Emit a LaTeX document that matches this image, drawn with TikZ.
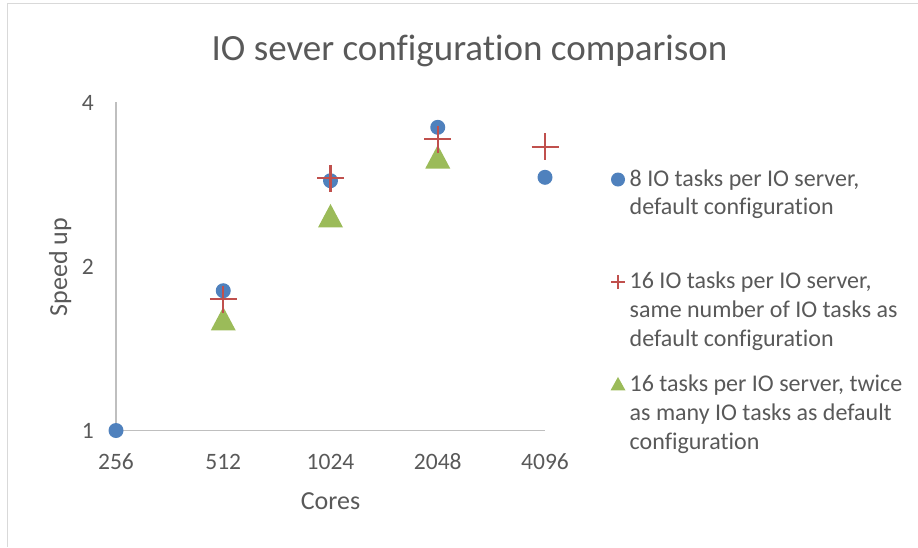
\documentclass[tikz,border=0pt]{standalone}
\usepackage{fontspec}
\setmainfont{Carlito}[Ligatures=NoCommon]
\definecolor{txt}{HTML}{595959}
\definecolor{axisgray}{HTML}{BFBFBF}
\definecolor{framegray}{HTML}{D9D9D9}
\definecolor{sblue}{HTML}{4F81BD}
\definecolor{sred}{HTML}{C0504D}
\definecolor{sgreen}{HTML}{9BBB59}
\tikzset{
  ticklab/.style={inner sep=0pt, text=txt, font=\fontsize{23.5}{28}\selectfont},
  axtitle/.style={inner sep=0pt, text=txt, font=\fontsize{26}{31}\selectfont},
  legtext/.style={inner sep=0pt, text=txt, font=\fontsize{24}{29}\selectfont, anchor=base west},
  bluedot/.style={circle, fill=sblue, draw=none, inner sep=0pt, minimum size=15pt},
  legdot/.style={circle, fill=sblue, draw=none, inner sep=0pt, minimum size=14pt},
  plusmark/.pic={\draw[sred, line width=2.2pt] (-13.5,0) -- (13.5,0) (0,-13.5) -- (0,13.5);},
  legplus/.pic={\draw[sred, line width=1.4pt] (-7,0) -- (7,0) (0,-7) -- (0,7);},
  trimark/.pic={\fill[sgreen] (-12.5,11.75) -- (12.5,11.75) -- (0,-11.75) -- cycle;},
  legtri/.pic={\fill[sgreen] (-7.5,6.75) -- (7.5,6.75) -- (0,-6.75) -- cycle;},
}
\begin{document}
\begin{tikzpicture}[x=1pt,y=-1pt]
\useasboundingbox (0,0) rectangle (918,547);
% frame
\coordinate (fr1) at (918,3.5);
\coordinate (fr2) at (7.5,3.5);
\coordinate (fr3) at (7.5,547);
\draw[framegray, line width=1.5pt] (fr1) -- (fr2) -- (fr3);
% title
\node[inner sep=0pt, text=txt, font=\fontsize{37}{44}\selectfont, anchor=base] (title) at (469.5,60) {IO sever configuration comparison};
% axes
\coordinate (ytop) at (116,102);
\coordinate (orig) at (116,430.5);
\coordinate (xend) at (545,430.5);
\draw[axisgray, line width=1.6pt] (ytop) -- (orig) -- (xend);
% y tick labels
\node[ticklab, anchor=base east] (y4) at (94,110) {4};
\node[ticklab, anchor=base east] (y2) at (94,274) {2};
\node[ticklab, anchor=base east] (y1) at (94,438) {1};
% x tick labels
\node[ticklab, anchor=base] (x256) at (116,469.5) {256};
\node[ticklab, anchor=base] (x512) at (223.25,469.5) {512};
\node[ticklab, anchor=base] (x1024) at (330.5,469.5) {1024};
\node[ticklab, anchor=base] (x2048) at (437.75,469.5) {2048};
\node[ticklab, anchor=base] (x4096) at (545,469.5) {4096};
% axis titles
\node[axtitle, anchor=base] (xtitle) at (330.5,509.5) {Cores};
\node[axtitle, anchor=base, rotate=90] (ytitle) at (67,267) {Speed up};
% series 3: green triangles
\coordinate (g2) at (223.25,318.7);
\coordinate (g3) at (330.5,215.7);
\coordinate (g4) at (437.75,156.8);
\foreach \p in {g2,g3,g4} \pic at (\p) {trimark};
% series 1: blue circles
\node[bluedot] (b1) at (116,430.5) {};
\node[bluedot] (b2) at (223.25,290.7) {};
\node[bluedot] (b3) at (330.5,180.7) {};
\node[bluedot] (b4) at (437.75,127.3) {};
\node[bluedot] (b5) at (545,177.3) {};
% series 2: red plus
\coordinate (r2) at (223.25,299.3);
\coordinate (r3) at (330.5,178.3);
\coordinate (r4) at (437.75,139);
\coordinate (r5) at (545,146.8);
\foreach \p in {r2,r3,r4,r5} \pic at (\p) {plusmark};
% legend
\node[legdot] (lm1) at (618,179.5) {};
\coordinate (lm2) at (618,282);
\pic at (lm2) {legplus};
\coordinate (lm3) at (618,383.7);
\pic at (lm3) {legtri};
\node[legtext] (l1a) at (629.5,186) {8 IO tasks per IO server,};
\node[legtext] (l1b) at (629.5,214.5) {default configuration};
\node[legtext] (l2a) at (629.5,288) {16 IO tasks per IO server,};
\node[legtext] (l2b) at (629.5,317) {same number of IO tasks as};
\node[legtext] (l2c) at (629.5,346) {default configuration};
\node[legtext] (l3a) at (629.5,391) {16 tasks per IO server, twice};
\node[legtext] (l3b) at (629.5,420) {as many IO tasks as default};
\node[legtext] (l3c) at (629.5,449) {configuration};
\end{tikzpicture}
\end{document}
